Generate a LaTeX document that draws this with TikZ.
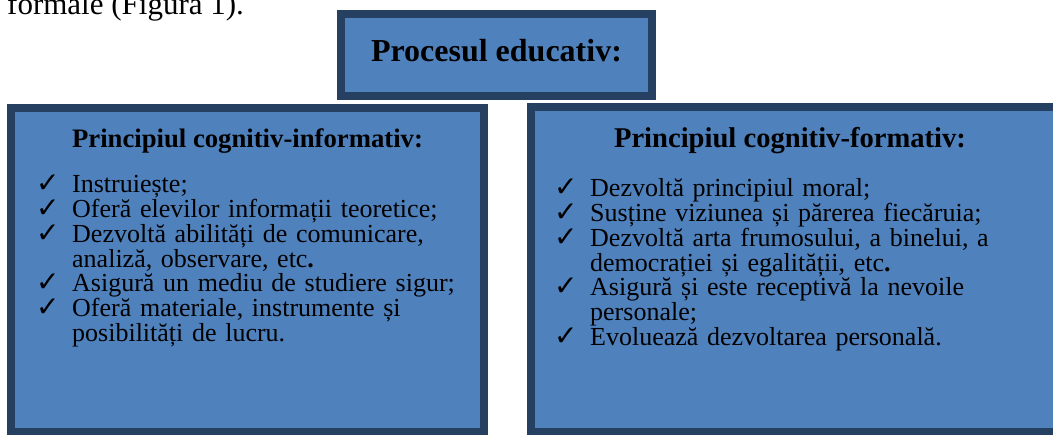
\documentclass[tikz,border=0pt]{standalone}
\usepackage{fontspec}
\setmainfont{Liberation Serif}
\newfontfamily\checkfont{DejaVu Sans}
\definecolor{boxblue}{RGB}{79, 129, 189}
\definecolor{boxnavy}{RGB}{38, 64, 98}
\newcommand{\chk}{\makebox[36pt][l]{\checkfont\fontsize{28}{24.7}\selectfont ✓}}
\newcommand{\nochk}{\hspace*{36pt}}

\begin{document}
\begin{tikzpicture}[x=1pt, y=1pt,
    frame/.style={rectangle, draw=boxnavy, fill=boxblue, line width=8pt, inner sep=0pt},
    head/.style={anchor=base, inner sep=0pt, font=\bfseries\fontsize{27}{30}\selectfont},
    list/.style={anchor=base west, inner sep=0pt, text width=#1, align=left, font=\fontsize{26}{24.7}\selectfont},
    list/.default=440pt
]
    \clip (0,0) rectangle (1053,435);

    \node[anchor=base west, inner sep=0pt, font=\fontsize{31}{34}\selectfont] (intro) at (7, 420) {formale (Figura 1).};

    % boxes
    \node[frame, minimum width=311pt, minimum height=82pt] (proces) at (496.5, 380) {};
    \node[frame, minimum width=473pt, minimum height=324pt] (cinf) at (247.5, 165) {};
    \node[frame, minimum width=539pt, minimum height=325pt] (cform) at (800.5, 165.5) {};

    % headings
    \node[head, font=\bfseries\fontsize{32}{36}\selectfont] (tproces) at (496.5, 373) {Procesul educativ:};
    \node[head, font=\bfseries\fontsize{26.7}{30}\selectfont] (tcinf) at (247.5, 287) {Principiul cognitiv-informativ:};
    \node[head, font=\bfseries\fontsize{28.6}{32}\selectfont] (tcform) at (790, 287) {Principiul cognitiv-formativ:};

    % lists
    \node[list] (linf) at (36, 242) {%
        \chk Instruiește;\\
        \chk Oferă elevilor informații teoretice;\\
        \chk Dezvoltă abilități de comunicare,\\
        \nochk analiză, observare, etc\textbf{.}\\
        \chk Asigură un mediu de studiere sigur;\\
        \chk Oferă materiale, instrumente și\\
        \nochk posibilități de lucru.};
    \node[list=480pt] (lform) at (554, 238) {%
        \chk Dezvoltă principiul moral;\\
        \chk Susține viziunea și părerea fiecăruia;\\
        \chk Dezvoltă arta frumosului, a binelui, a\\
        \nochk democrației și egalității, etc\textbf{.}\\
        \chk Asigură și este receptivă la nevoile\\
        \nochk personale;\\
        \chk Evoluează dezvoltarea personală.};
\end{tikzpicture}
\end{document}
